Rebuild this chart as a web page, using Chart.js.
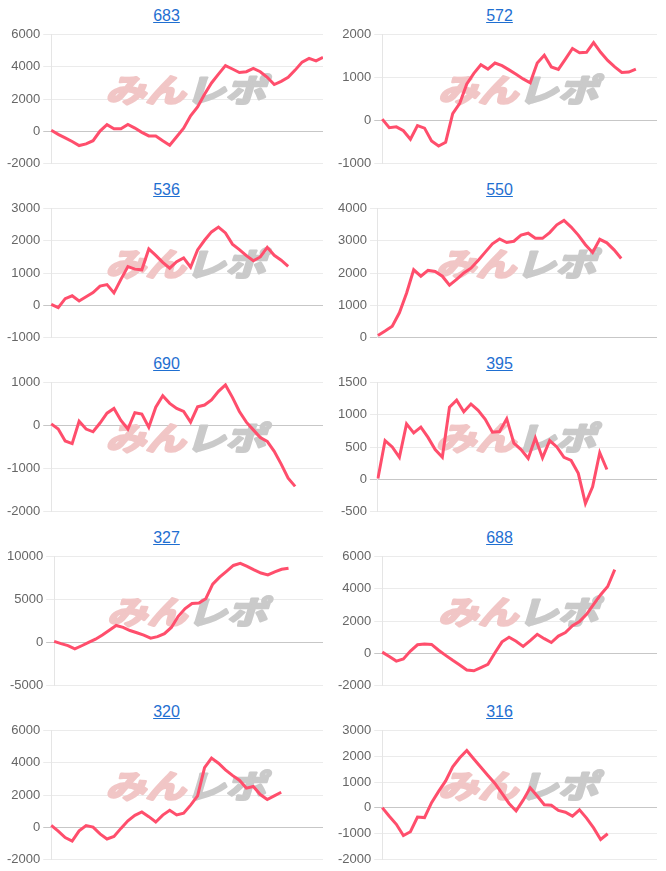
<!DOCTYPE html>
<html lang="ja">
<head>
    <meta charset="UTF-8">
    <title>収支グラフ</title>
    <script src="https://cdn.jsdelivr.net/npm/chart.js"></script>
    <style>
        body {
            margin: 0;
            background: #fff;
            font-family: "Liberation Sans", Arial, sans-serif;
        }
        #grid {
            position: relative;
            width: 666px;
            height: 871px;
            overflow: hidden;
        }
        .cell {
            position: absolute;
            width: 333px;
            height: 174px;
        }
        .cell a {
            position: absolute;
            left: 0;
            right: 0;
            top: 7px;
            text-align: center;
            font-size: 16px;
            color: #1f6fd1;
            text-decoration: underline;
        }
        .cell canvas {
            position: absolute;
            top: 24px;
        }
    </style>
</head>
<body>
    <div id="grid"></div>

    <script>
        // 台番号
        const titles = ['683', '572', '536', '550', '690', '395', '327', '688', '320', '316'];

        // 横軸（表示しない）
        const xLabels = Array.from({ length: 40 }, (_, i) => i + 1);

        // 差枚数の推移
        const s683 = [50, -200, -420, -650, -900, -800, -600, 0, 400, 150, 150, 420, 190, -80, -300, -300, -600, -880, -350, 180,
            950, 1500, 2300, 3000, 3550, 4080, 3870, 3650, 3700, 3900, 3700, 3350, 2900, 3100, 3350, 3800, 4300, 4530, 4380, 4590];
        const s572 = [30, -170, -150, -240, -440, -120, -180, -480, -600, -510, 160, 400, 850, 1100, 1300, 1200, 1340, 1280, 1180, 1080,
            970, 880, 1340, 1520, 1250, 1190, 1430, 1680, 1580, 1590, 1820, 1590, 1400, 1250, 1120, 1130, 1200];
        const s536 = [20, -80, 200, 290, 130, 260, 390, 590, 640, 380, 800, 1200, 1120, 1100, 1750, 1550, 1330, 1150, 1350, 1470,
            1180, 1720, 2020, 2280, 2430, 2250, 1900, 1730, 1540, 1380, 1500, 1800, 1550, 1400, 1210];
        const s550 = [50, 190, 340, 760, 1370, 2100, 1900, 2080, 2050, 1900, 1620, 1800, 2000, 2150, 2390, 2650, 2910, 3060, 2950, 2990,
            3180, 3240, 3080, 3080, 3260, 3500, 3640, 3430, 3180, 2880, 2640, 3050, 2940, 2720, 2450];
        const s690 = [40, -80, -360, -420, 100, -80, -145, 60, 290, 400, 120, -80, 300, 270, -40, 430, 700, 520, 400, 330,
            80, 440, 480, 600, 800, 950, 660, 330, 80, -100, -280, -370, -600, -900, -1230, -1420];
        const s395 = [10, 600, 500, 340, 860, 720, 810, 650, 460, 340, 1120, 1230, 1050, 1170, 1070, 930, 730, 740, 940, 560,
            460, 320, 640, 330, 600, 500, 340, 290, 90, -380, -120, 410, 150];
        const s327 = [120, -150, -370, -760, -390, 0, 370, 870, 1430, 1980, 1760, 1390, 1130, 860, 500, 670, 1020, 1750, 3050, 3950,
            4540, 4610, 5100, 6800, 7630, 8300, 8990, 9230, 8890, 8480, 8100, 7880, 8250, 8540, 8670];
        const s688 = [60, -210, -500, -360, 130, 520, 560, 540, 180, -140, -450, -740, -1050, -1100, -900, -700, 20, 700, 990, 740,
            420, 780, 1170, 900, 660, 1060, 1280, 1710, 1960, 2420, 3030, 3640, 4150, 5200];
        const s320 = [105, -250, -650, -870, -230, 100, 0, -420, -740, -580, -80, 390, 730, 940, 650, 320, 750, 1050, 760, 870,
            1370, 1950, 3700, 4300, 3980, 3570, 3220, 2920, 2430, 2530, 2030, 1720, 1940, 2170];
        const s316 = [10, -330, -640, -1080, -930, -360, -380, 200, 640, 1050, 1600, 1950, 2230, 1900, 1580, 1260, 950, 560, 170, -120,
            300, 780, 460, 120, 100, -100, -170, -320, -80, -400, -780, -1230, -1010];

        const series = [s683, s572, s536, s550, s690, s395, s327, s688, s320, s316];

        // 縦軸の目盛り
        const yMin = [-2000, -1000, -1000, 0, -2000, -500, -5000, -2000, -2000, -2000];
        const yMax = [6000, 2000, 3000, 4000, 1000, 1500, 10000, 6000, 6000, 3000];
        const yStep = [2000, 1000, 1000, 1000, 1000, 500, 5000, 2000, 2000, 1000];

        // 透かしロゴ
        const watermark = {
            id: 'watermark',
            beforeDatasetsDraw(chart) {
                const { ctx, chartArea: a } = chart;
                const cx = (a.left + a.right) / 2 + 2;
                const cy = a.top + (a.bottom - a.top) * 0.43;
                ctx.save();
                ctx.translate(cx, cy);
                ctx.transform(1.25, 0, -0.3, 1, 0, 0);
                ctx.font = 'bold 32px "Noto Sans CJK JP"';
                ctx.textBaseline = 'middle';
                ctx.lineWidth = 2.5;
                ctx.lineJoin = 'round';
                ctx.textAlign = 'right';
                ctx.fillStyle = ctx.strokeStyle = '#f1c6c6';
                ctx.fillText('みん', 0, 0);
                ctx.strokeText('みん', 0, 0);
                ctx.textAlign = 'left';
                ctx.fillStyle = ctx.strokeStyle = '#cacaca';
                ctx.fillText('レポ', 0, 0);
                ctx.strokeText('レポ', 0, 0);
                ctx.restore();
            }
        };

        const grid = document.getElementById('grid');

        series.forEach((data, i) => {
            const col = i % 2;
            const row = Math.floor(i / 2);

            const cell = document.createElement('div');
            cell.className = 'cell';
            cell.style.left = (col * 333) + 'px';
            cell.style.top = (row * 174) + 'px';

            const link = document.createElement('a');
            link.href = '#';
            link.textContent = titles[i];
            cell.appendChild(link);

            const canvas = document.createElement('canvas');
            canvas.width = col === 0 ? 319 : 322;
            canvas.height = 150;
            canvas.style.left = (col === 0 ? 4 : 2) + 'px';
            cell.appendChild(canvas);
            grid.appendChild(cell);

            new Chart(canvas.getContext('2d'), {
                type: 'line',
                data: {
                    labels: xLabels,
                    datasets: [{
                        data: data,
                        borderColor: 'rgb(255, 78, 108)',
                        borderWidth: 3,
                        pointRadius: 0,
                        tension: 0,
                        fill: false
                    }]
                },
                options: {
                    responsive: false,
                    animation: false,
                    layout: { padding: 0 },
                    plugins: {
                        legend: { display: false },
                        tooltip: { enabled: false }
                    },
                    scales: {
                        x: { display: false },
                        y: {
                            min: yMin[i],
                            max: yMax[i],
                            ticks: {
                                stepSize: yStep[i],
                                color: '#666',
                                padding: 3,
                                font: { family: '"Liberation Sans", Arial', size: 13 },
                                callback: v => String(v)
                            },
                            grid: {
                                tickLength: 8,
                                color: c => (c.tick && c.tick.value === 0) ? 'rgba(0,0,0,0.22)' : 'rgba(0,0,0,0.08)'
                            },
                            border: { color: 'rgba(0,0,0,0.1)' }
                        }
                    }
                },
                plugins: [watermark]
            });
        });
    </script>
</body>
</html>
